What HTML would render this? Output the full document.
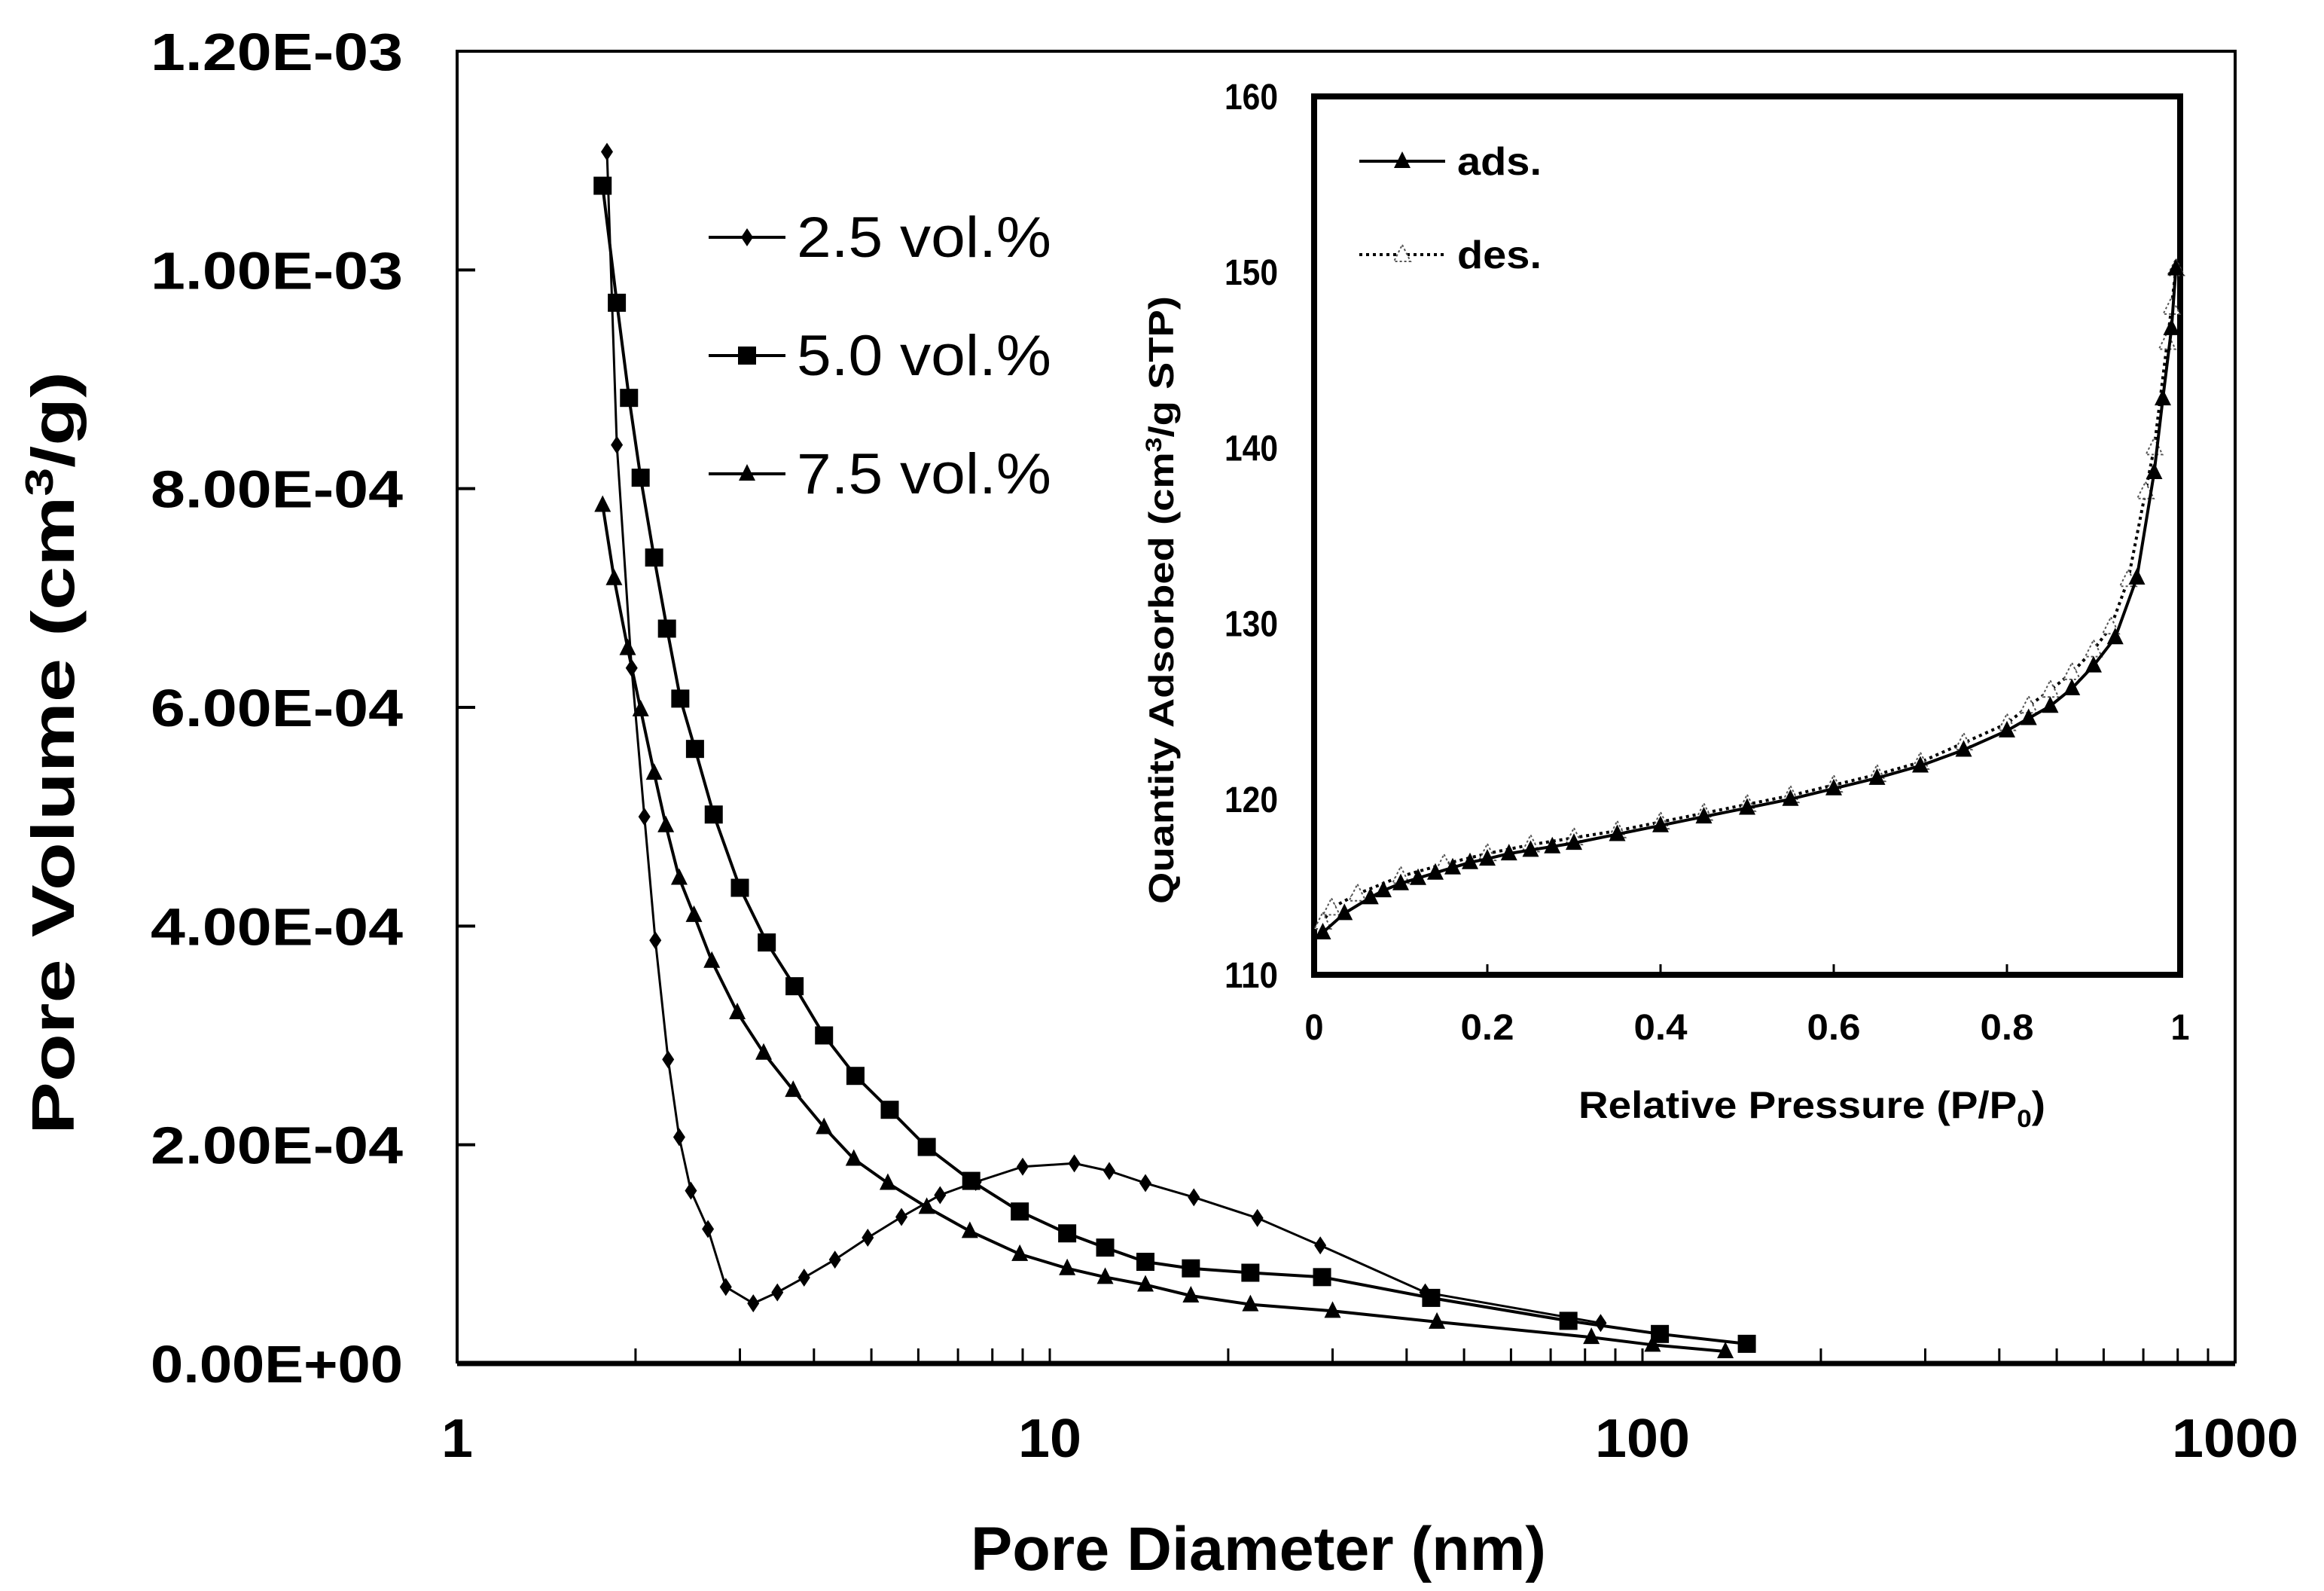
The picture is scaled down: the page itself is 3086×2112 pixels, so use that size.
<!DOCTYPE html>
<html><head><meta charset="utf-8">
<style>
html,body{margin:0;padding:0;background:#fff;}
svg{display:block;font-family:"Liberation Sans",Arial,sans-serif;}
</style></head>
<body>
<svg id="chart" width="3086" height="2112" viewBox="0 0 3086 2112" xmlns="http://www.w3.org/2000/svg">
<rect x="0" y="0" width="3086" height="2112" fill="#fff"/>
<g id="main"></g>
<g id="inset"></g>
</svg>
<script>
// ---- main chart data ----
const mainYTicks = [0, 2e-4, 4e-4, 6e-4, 8e-4, 1e-3, 1.2e-3];
const mainYTickLabels = ["0.00E+00","2.00E-04","4.00E-04","6.00E-04","8.00E-04","1.00E-03","1.20E-03"];
const mainXTicks = [1, 10, 100, 1000];
const mainXTickLabels = ["1","10","100","1000"];
const seriesNames = ["2.5 vol.%","5.0 vol.%","7.5 vol.%"];
const d25 = [1.79,1.86,1.97,2.07,2.16,2.27,2.37,2.48,2.65,2.84,3.16,3.47,3.85,4.34,4.93,5.62,6.53,7.5,9.0,11.0,12.6,14.5,17.5,22.4,28.6,43,85];
const v25 = [1.108e-3,8.40e-4,6.36e-4,5.0e-4,3.87e-4,2.78e-4,2.07e-4,1.58e-4,1.23e-4,7.0e-5,5.5e-5,6.5e-5,7.85e-5,9.5e-5,1.15e-4,1.34e-4,1.54e-4,1.66e-4,1.80e-4,1.83e-4,1.76e-4,1.65e-4,1.52e-4,1.33e-4,1.08e-4,6.5e-5,3.7e-5];
const d50 = [1.76,1.86,1.95,2.04,2.15,2.26,2.38,2.52,2.71,3.0,3.33,3.71,4.16,4.7,5.37,6.2,7.37,8.9,10.7,12.4,14.5,17.3,21.8,28.8,44,75,107,150];
const v50 = [1.077e-3,9.7e-4,8.83e-4,8.1e-4,7.37e-4,6.72e-4,6.08e-4,5.62e-4,5.02e-4,4.35e-4,3.85e-4,3.45e-4,3.0e-4,2.63e-4,2.32e-4,1.98e-4,1.67e-4,1.39e-4,1.19e-4,1.06e-4,9.3e-5,8.7e-5,8.3e-5,7.9e-5,6.0e-5,3.9e-5,2.7e-5,1.8e-5];
const d75 = [1.76,1.84,1.94,2.04,2.15,2.25,2.37,2.51,2.69,2.97,3.29,3.69,4.16,4.67,5.33,6.2,7.33,8.9,10.7,12.4,14.5,17.3,21.8,30,45,82,104,138];
const v75 = [7.85e-4,7.18e-4,6.54e-4,5.98e-4,5.4e-4,4.92e-4,4.44e-4,4.1e-4,3.68e-4,3.21e-4,2.84e-4,2.5e-4,2.16e-4,1.87e-4,1.65e-4,1.43e-4,1.21e-4,1.0e-4,8.7e-5,7.9e-5,7.2e-5,6.2e-5,5.4e-5,4.8e-5,3.8e-5,2.4e-5,1.7e-5,1.1e-5];
// ---- inset data ----
const insetYTicks = [110,120,130,140,150,160];
const insetXTicks = [0,0.2,0.4,0.6,0.8,1];
const insetXTickLabels = ["0","0.2","0.4","0.6","0.8","1"];
const adsP = [0.01,0.035,0.065,0.08,0.1,0.12,0.14,0.16,0.18,0.2,0.225,0.25,0.275,0.3,0.35,0.4,0.45,0.5,0.55,0.6,0.65,0.7,0.75,0.8,0.825,0.85,0.875,0.9,0.925,0.95,0.97,0.98,0.99,0.995];
const adsQ = [112.4,113.5,114.4,114.8,115.2,115.5,115.8,116.1,116.4,116.6,116.9,117.1,117.3,117.5,118.0,118.5,119.0,119.5,120.0,120.6,121.2,121.9,122.8,123.9,124.6,125.3,126.3,127.6,129.2,132.6,138.6,142.8,146.8,150.2];
const desP = [0.995,0.99,0.985,0.97,0.96,0.94,0.92,0.9,0.875,0.85,0.825,0.8,0.75,0.7,0.65,0.6,0.55,0.5,0.45,0.4,0.35,0.3,0.25,0.2,0.15,0.1,0.05,0.02,0.01];
const desQ = [150.2,148.0,146.0,140.0,137.5,132.5,129.8,128.5,127.2,126.2,125.3,124.3,123.2,122.1,121.4,120.8,120.2,119.7,119.2,118.7,118.2,117.8,117.4,116.9,116.3,115.6,114.6,113.8,113.0];

const NS = "http://www.w3.org/2000/svg";
function mk(tag, attrs, parent, text){
  const e = document.createElementNS(NS, tag);
  for (const k in attrs) e.setAttribute(k, attrs[k]);
  if (text !== undefined) e.textContent = text;
  parent.appendChild(e);
  return e;
}
const main = document.getElementById('main');
const inset = document.getElementById('inset');

const L=607, R=2968, T=68, B=1810;
const xs = d => L + (R-L) * Math.log10(d) / 3;
const ys = v => B - (B-T) * v / 1.2e-3;

let e;
e = mk('path',{d:`M${L},${B} L${L},${T} L${R},${T} L${R},${B}`,fill:'none',stroke:'#000','stroke-width':4},main);


e = mk('line',{x1:L,y1:B,x2:R,y2:B,stroke:'#000','stroke-width':7},main);



mainYTicks.forEach((t,i)=>{
  const y = ys(t);
  const tk = mk('line',{x1:L,y1:y,x2:L+24,y2:y,stroke:'#000','stroke-width':4},main);
  
  
  const lb = mk('text',{x:200,y:y+25,'font-size':70,'font-weight':'bold',textLength:335,lengthAdjust:'spacingAndGlyphs'},main,mainYTickLabels[i]);
  
  
});
for (let dec=0; dec<3; dec++){
  for (let m=1; m<=9; m++){
    if (dec===0 && m===1) continue;
    const x = xs(m*Math.pow(10,dec));
    const tk = mk('line',{x1:x,y1:B,x2:x,y2:B-20,stroke:'#000','stroke-width':3},main);
    
    
  }
}
mainXTicks.forEach((t,i)=>{
  const w = 42*mainXTickLabels[i].length;
  const lb = mk('text',{x:xs(t)-w/2,y:1934,'font-size':72,'font-weight':'bold',textLength:w,lengthAdjust:'spacingAndGlyphs'},main,mainXTickLabels[i]);
  
  
});
e = mk('text',{x:1289,y:2084,'font-size':82,'font-weight':'bold',textLength:764,lengthAdjust:'spacingAndGlyphs'},main,'Pore Diameter (nm)');


e = mk('text',{x:0,y:0,'font-size':80,'font-weight':'bold',textLength:1013,lengthAdjust:'spacingAndGlyphs',transform:'translate(98,1506) rotate(-90)'},main);


e.innerHTML = 'Pore Volume (cm<tspan dy="-28" font-size="52">3</tspan><tspan dy="28">/g)</tspan>';

function marker(type, x, y, parent, open){
  let m;
  const fill = open ? '#fff' : '#000';
  if (type==='diamond') m = mk('path',{d:`M${x},${y-12} L${x+8},${y} L${x},${y+12} L${x-8},${y} Z`,fill},parent);
  else if (type==='square') m = mk('rect',{x:x-12,y:y-12,width:24,height:24,fill},parent);
  else m = mk('path',{d:`M${x},${y-13} L${x+11},${y+9} L${x-11},${y+9} Z`,fill,stroke:open?'#555':'none','stroke-width':open?2:0,'stroke-dasharray':open?'3,3':'none'},parent);
  return m;
}
const mainSeries = [[d25,v25,'diamond'],[d50,v50,'square'],[d75,v75,'triangle']];
mainSeries.forEach((s,si)=>{
  const g = mk('g',{},main);
  
  
  const pts = s[0].map((d,i)=>xs(d).toFixed(1)+','+ys(s[1][i]).toFixed(1)).join(' ');
  const ln = mk('polyline',{points:pts,fill:'none',stroke:'#000','stroke-width':si===0?3:4},g);
  
  
  s[0].forEach((d,i)=>{
    const m = marker(s[2], xs(d), ys(s[1][i]), g);
    
    
  });
  const ly = 315 + si*157;
  const lg = mk('g',{},main);
  
  
  mk('line',{x1:941,y1:ly,x2:1043,y2:ly,stroke:'#000','stroke-width':4},lg);
  marker(s[2],992,ly,lg);
  const lt = mk('text',{x:1058,y:ly+26,'font-size':76,textLength:338,lengthAdjust:'spacingAndGlyphs'},lg,seriesNames[si]);
  
  
});

// inset
const IL=1745, IR=2895, IT=128, IB=1294;
const ixs = p => IL + (IR-IL)*p;
const iys = q => IB - (IB-IT)*(q-110)/50;
e = mk('rect',{x:IL,y:IT,width:IR-IL,height:IB-IT,fill:'#fff',stroke:'#000','stroke-width':8},inset);


insetYTicks.forEach(t=>{
  const lb = mk('text',{x:1626,y:iys(t)+17,'font-size':48,'font-weight':'bold',textLength:71,lengthAdjust:'spacingAndGlyphs'},inset,String(t));
  
  
});
insetXTicks.forEach((t,i)=>{
  const tk = mk('line',{x1:ixs(t),y1:IB,x2:ixs(t),y2:IB-14,stroke:'#000','stroke-width':3},inset);
  
  
  const w = insetXTickLabels[i].length>1 ? 71 : 25;
  const lb = mk('text',{x:ixs(t)-w/2,y:1380,'font-size':48,'font-weight':'bold',textLength:w,lengthAdjust:'spacingAndGlyphs'},inset,insetXTickLabels[i]);
  
  
});
e = mk('text',{x:2096,y:1484,'font-size':50,'font-weight':'bold',textLength:620,lengthAdjust:'spacingAndGlyphs'},inset);


e.innerHTML = 'Relative Pressure (P/P<tspan dy="12" font-size="32">0</tspan><tspan dy="-12">)</tspan>';
e = mk('text',{x:0,y:0,'font-size':46,'font-weight':'bold',textLength:807,lengthAdjust:'spacingAndGlyphs',transform:'translate(1558,1200) rotate(-90)'},inset);


e.innerHTML = 'Quantity Adsorbed (cm<tspan dy="-16" font-size="30">3</tspan><tspan dy="16">/g STP)</tspan>';

const gd = mk('g',{},inset);


mk('polyline',{points:desP.map((p,i)=>ixs(p).toFixed(1)+','+iys(desQ[i]).toFixed(1)).join(' '),fill:'none',stroke:'#000','stroke-width':4,'stroke-dasharray':'4,5'},gd);
desP.forEach((p,i)=>{
  const m = marker('triangle', ixs(p), iys(desQ[i]), gd, true);
  
  
});
const ga = mk('g',{},inset);


mk('polyline',{points:adsP.map((p,i)=>ixs(p).toFixed(1)+','+iys(adsQ[i]).toFixed(1)).join(' '),fill:'none',stroke:'#000','stroke-width':4},ga);
adsP.forEach((p,i)=>{
  const m = marker('triangle', ixs(p), iys(adsQ[i]), ga);
  
  
});
const la = mk('g',{},inset);


mk('line',{x1:1805,y1:214,x2:1919,y2:214,stroke:'#000','stroke-width':4},la);
marker('triangle',1862,214,la);
mk('text',{x:1935,y:232,'font-size':52,'font-weight':'bold',textLength:112,lengthAdjust:'spacingAndGlyphs'},la,'ads.');
const ld = mk('g',{},inset);


mk('line',{x1:1805,y1:338,x2:1919,y2:338,stroke:'#000','stroke-width':4,'stroke-dasharray':'4,5'},ld);
marker('triangle',1862,338,ld,true);
mk('text',{x:1935,y:356,'font-size':52,'font-weight':'bold',textLength:112,lengthAdjust:'spacingAndGlyphs'},ld,'des.');
</script>
</body></html>
